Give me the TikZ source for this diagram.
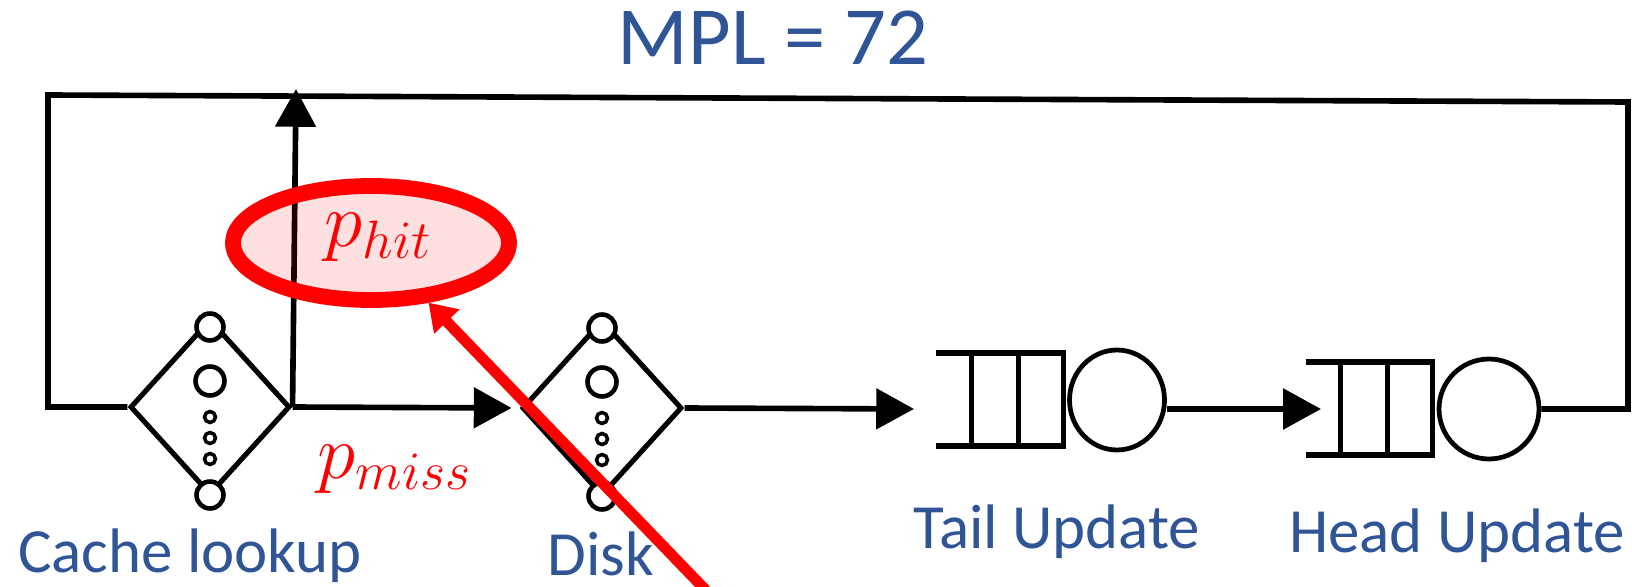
\RequirePackage{fix-cm}
\documentclass[tikz,border=0pt]{standalone}
\usepackage{fontspec}
\setmainfont{Carlito}
\usepackage{xcolor}
\usetikzlibrary{shapes.geometric,arrows.meta,calc}
\definecolor{lblblue}{HTML}{2F5597}

\begin{document}
\begin{tikzpicture}[x=0.02cm,y=-0.02cm,line width=3.2pt]
  \tikzstyle{station}=[diamond,draw,line width=2.9pt,minimum width=3.2cm,minimum height=3.52cm,inner sep=0pt]
  \tikzstyle{server}=[ellipse,draw,line width=2.7pt,inner sep=0pt,minimum width=2cm,minimum height=2cm]
  \tikzstyle{lbl}=[text=lblblue,font=\fontsize{35.8}{40}\selectfont,inner sep=0pt]
  \tikzstyle{prob}=[text=red,font=\fontsize{44}{50}\selectfont,inner sep=0pt]
  \tikzstyle{flow}=[line width=3.2pt,-{Triangle[length=21.5pt,width=22.7pt]}]

  \clip (0,0) rectangle (1632,587);
  \fill[white] (0,0) rectangle (1632,587);

  \node[text=lblblue,font=\fontsize{47}{50}\selectfont,inner sep=0pt,anchor=base] (mpl) at (773,65) {MPL = 72};

  % delay stations
  \node[station] (cache) at (210,407) {};
  \node[station] (disk) at (602,408) {};
  \foreach \st in {cache,disk}
    \foreach \dy/\r/\w in {-80/13.5/2.6, -26/14.5/2.6, 10/5.5/2, 31/5.5/2, 52/5.5/2, 88/13.5/2.6}
      \draw[fill=white,line width=\w pt] ($(\st)+(0,\dy)$) circle[radius=\r];

  % FCFS servers with their queues
  \node[server,minimum width=1.9cm] (tail) at (1117,400) {};
  \node[server] (head) at (1489,409) {};
  \foreach \srv in {tail,head} {
    \draw[line width=2.9pt] ($(\srv.west)+(-131,-47)$) -- ++(127,0) -- ++(0,93) -- ++(-127,0);
    \draw[line width=2.9pt] ($(\srv.west)+(-96,-47)$) -- ++(0,93);
    \draw[line width=2.9pt] ($(\srv.west)+(-49,-47)$) -- ++(0,93);
  }
  \coordinate (tailq) at (914,409);
  \coordinate (headq) at (1321,409);

  % closed loop
  \coordinate (ne) at (1628,102);
  \coordinate (nw) at (48,95);
  \coordinate (hittop) at (296,89);
  \draw (head.east) -- (ne |- head.east) -- (ne) -- (nw) -- (nw |- cache.west) -- (cache.west);
  \draw[flow] (cache.east) -- (hittop);
  \draw[flow,shorten >=4.5pt] (cache.east) -- (disk.west);
  \draw[flow] (disk.east) -- (tailq);
  \draw[flow] (tail.east |- headq) -- (headq);

  % labels
  \node[lbl,anchor=base] (cachelbl) at (190,572) {Cache lookup};
  \node[lbl,anchor=base] (disklbl) at (601,575) {Disk};
  \node[lbl,anchor=base] (taillbl) at (1057,548) {Tail Update};
  \node[lbl,anchor=base] (headlbl) at (1457,552) {Head Update};
  \node[prob,anchor=base west] (miss) at (315,478) {$p_{miss}$};

  % highlight
  \node[ellipse,draw=red,line width=9pt,fill=red,fill opacity=0.12,draw opacity=1,
        minimum width=5.52cm,minimum height=2.28cm,inner sep=0pt] (hit) at (371,243) {};
  \node[prob,anchor=base west] (hittxt) at (322,247) {$p_{hit}$};
  \coordinate (pointer) at (720,605);
  \draw[red,line width=6.2pt,-{Triangle[length=15pt,width=19pt]}] (pointer) -- (hit);
\end{tikzpicture}
\end{document}
